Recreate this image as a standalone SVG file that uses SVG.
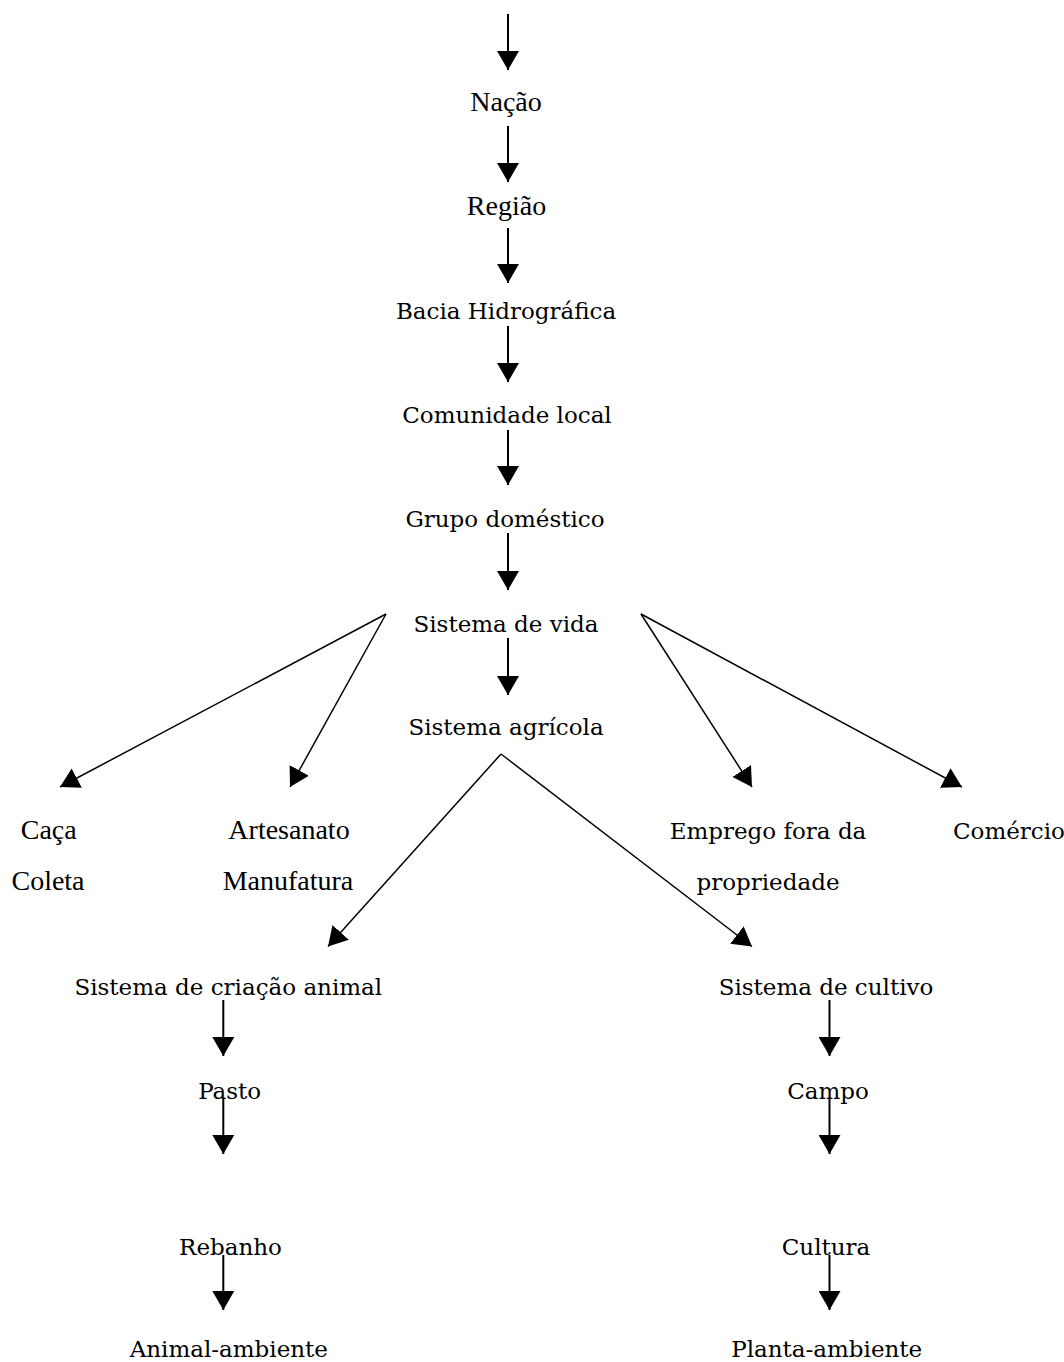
<svg xmlns="http://www.w3.org/2000/svg" width="1064" height="1362" viewBox="0 0 1064 1362">
<defs>
<style>
.p{font-family:"DejaVu Serif","Liberation Serif",serif;font-size:23px;fill:#000;text-anchor:middle}
.t{font-family:"Liberation Serif","Times New Roman",serif;font-size:28px;fill:#000;text-anchor:middle}
.v{stroke:#000;stroke-width:2;fill:none;marker-end:url(#ah)}
.d{stroke:#000;stroke-width:1.5;fill:none;marker-end:url(#ah)}
</style>
<marker id="ah" viewBox="0 0 19 22" refX="19" refY="11" markerWidth="19" markerHeight="22" markerUnits="userSpaceOnUse" orient="auto">
<path d="M0,0 L19,11 L0,22 Z" fill="#000"/>
</marker>
</defs>
<rect width="1064" height="1362" fill="#fff"/>
<g id="connectors">
<line class="v" x1="508" y1="14" x2="508" y2="70"/>
<line class="v" x1="508" y1="126" x2="508" y2="182"/>
<line class="v" x1="508" y1="228" x2="508" y2="283"/>
<line class="v" x1="508" y1="326" x2="508" y2="382"/>
<line class="v" x1="508" y1="430" x2="508" y2="485"/>
<line class="v" x1="508" y1="533" x2="508" y2="590"/>
<line class="v" x1="508" y1="638" x2="508" y2="695"/>
<line class="d" x1="386" y1="614" x2="60" y2="787"/>
<line class="d" x1="386" y1="614" x2="290" y2="787"/>
<line class="d" x1="641" y1="614" x2="752" y2="787"/>
<line class="d" x1="641" y1="614" x2="962" y2="787"/>
<line class="d" x1="501" y1="754" x2="328" y2="946.5"/>
<line class="d" x1="501" y1="754" x2="752" y2="946.5"/>
<line class="v" x1="223.3" y1="1000" x2="223.3" y2="1056"/>
<line class="v" x1="223.3" y1="1097" x2="223.3" y2="1154"/>
<line class="v" x1="223.3" y1="1255" x2="223.3" y2="1310"/>
<line class="v" x1="829.5" y1="1000" x2="829.5" y2="1056"/>
<line class="v" x1="829.5" y1="1097" x2="829.5" y2="1154"/>
<line class="v" x1="829.5" y1="1255" x2="829.5" y2="1310"/>
</g>
<g id="nacao"><text class="t" x="506" y="111">Nação</text></g>
<g id="regiao"><text class="t" x="506.5" y="215">Região</text></g>
<g id="bacia"><text class="p" x="506" y="319">Bacia Hidrográfica</text></g>
<g id="comunidade"><text class="p" x="507" y="423">Comunidade local</text></g>
<g id="grupo"><text class="p" x="505" y="527">Grupo doméstico</text></g>
<g id="sistema-vida"><text class="p" x="506" y="632">Sistema de vida</text></g>
<g id="sistema-agricola"><text class="p" x="506" y="735">Sistema agrícola</text></g>
<g id="caca"><text class="t" x="48.7" y="839">Caça</text><text class="t" x="48" y="890">Coleta</text></g>
<g id="artesanato"><text class="t" x="289" y="839">Artesanato</text><text class="t" x="288" y="890">Manufatura</text></g>
<g id="emprego"><text class="p" x="768" y="839">Emprego fora da</text><text class="p" x="768" y="890">propriedade</text></g>
<g id="comercio"><text class="p" x="953" y="839" style="text-anchor:start">Comércio</text></g>
<g id="criacao"><text class="p" x="228.3" y="995">Sistema de criação animal</text></g>
<g id="cultivo"><text class="p" x="826" y="995">Sistema de cultivo</text></g>
<g id="pasto"><text class="p" x="229.7" y="1099">Pasto</text></g>
<g id="campo"><text class="p" x="828" y="1099">Campo</text></g>
<g id="rebanho"><text class="p" x="230.5" y="1255">Rebanho</text></g>
<g id="cultura"><text class="p" x="826" y="1254.5">Cultura</text></g>
<g id="animal-ambiente"><text class="p" x="228.8" y="1357">Animal-ambiente</text></g>
<g id="planta-ambiente"><text class="p" x="826.7" y="1357">Planta-ambiente</text></g>
</svg>
